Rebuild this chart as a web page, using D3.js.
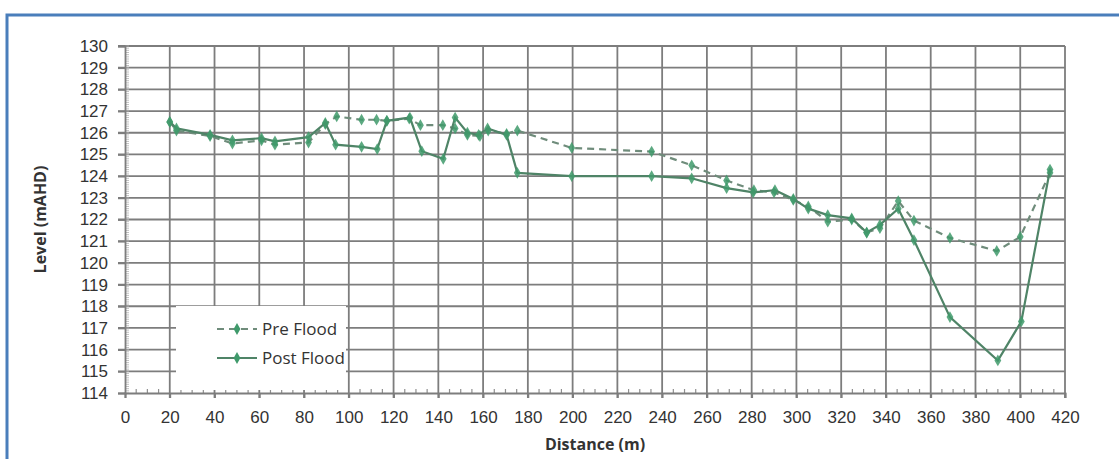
<!DOCTYPE html>
<html>
<head>
<meta charset="utf-8">
<script src="https://cdn.jsdelivr.net/npm/d3@7"></script>
<style>
  html, body { margin: 0; padding: 0; background: #fff; }
  svg { display: block; }
  text { font-family: "Open Sans", "Liberation Sans", sans-serif; fill: #333; }
</style>
</head>
<body>
<script>
// ---- data ----
const preDistance = [20, 23, 38, 48, 61, 67, 82, 89.5, 94.6, 105.7, 112.4, 117, 127, 132, 142, 147.5, 153, 158.6, 162.3, 170.5, 175.3, 199.6, 235.3, 253.2, 268.8, 281, 290, 298.6, 305.3, 314, 324.7, 331.4, 337.3, 345.5, 352.5, 368.6, 389.5, 400, 413.3];
const preLevel    = [126.5, 126.1, 125.85, 125.5, 125.65, 125.45, 125.55, 126.4, 126.75, 126.6, 126.6, 126.55, 126.65, 126.35, 126.35, 126.2, 125.9, 125.85, 126.1, 125.95, 126.1, 125.3, 125.13, 124.5, 123.8, 123.35, 123.25, 122.9, 122.6, 121.9, 122.0, 121.4, 121.6, 122.85, 121.95, 121.15, 120.55, 121.2, 124.15];

const postDistance = [20, 23, 38, 48, 61, 67, 82, 89.5, 94.1, 105.7, 112.7, 117, 127.3, 132.6, 142.2, 147.5, 153, 158, 162, 170.5, 175.3, 199.6, 235.3, 253.2, 268.8, 280.7, 290.4, 298.6, 305.3, 314, 324.7, 331.4, 337.3, 345.5, 352.5, 368.6, 390, 400.5, 413.3];
const postLevel    = [126.5, 126.2, 125.9, 125.65, 125.75, 125.6, 125.8, 126.45, 125.45, 125.35, 125.25, 126.55, 126.7, 125.15, 124.8, 126.7, 126.0, 125.9, 126.2, 125.9, 124.15, 124.0, 124.0, 123.9, 123.45, 123.25, 123.35, 122.95, 122.5, 122.2, 122.05, 121.4, 121.75, 122.5, 121.05, 117.5, 115.5, 117.3, 124.3];

const xTicks = d3.range(0, 421, 20);
const yTicks = d3.range(114, 131, 1);
const seriesNames = ["Pre Flood", "Post Flood"];

// ---- layout ----
const W = 1119, H = 459;
const plot = { left: 125, right: 1065, top: 46, bottom: 393 };

const svg = d3.select("body").append("svg").attr("width", W).attr("height", H);

// outer frame
svg.append("rect").attr("x", 7).attr("y", 15).attr("width", 1300).attr("height", 700)
  .attr("fill", "#fff").attr("stroke", "#4a7ebb").attr("stroke-width", 3);

const x = d3.scaleLinear().domain([0, 420]).range([plot.left, plot.right]);
const y = d3.scaleLinear().domain([114, 130]).range([plot.bottom, plot.top]);

const gridColor = "#7d7d7d";
const gridWidth = 1.8;

// gridlines
const grid = svg.append("g");
grid.selectAll("line.h").data(yTicks.filter(v => v > 114)).join("line")
  .attr("x1", plot.left - 7).attr("x2", plot.right)
  .attr("y1", d => y(d)).attr("y2", d => y(d))
  .attr("stroke", gridColor).attr("stroke-width", gridWidth);
grid.selectAll("line.v").data(xTicks.filter(v => v > 0)).join("line")
  .attr("x1", d => x(d)).attr("x2", d => x(d))
  .attr("y1", plot.top).attr("y2", plot.bottom + 5)
  .attr("stroke", gridColor).attr("stroke-width", gridWidth);

// minor ticks
const minorY = d3.range(114, 130.001, 0.1);
svg.append("g").selectAll("line").data(minorY).join("line")
  .attr("x1", plot.left).attr("x2", plot.left + 4)
  .attr("y1", d => y(d)).attr("y2", d => y(d))
  .attr("stroke", "#b0b0b0").attr("stroke-width", 0.8);
const minorX = d3.range(0, 420.001, 5).filter(v => v % 20 !== 0);
svg.append("g").selectAll("line").data(minorX).join("line")
  .attr("x1", d => x(d)).attr("x2", d => x(d))
  .attr("y1", plot.bottom).attr("y2", plot.bottom - 4)
  .attr("stroke", "#8f8f8f").attr("stroke-width", 1.2);

// axes
const yAxis = d3.axisLeft(y).tickValues(yTicks).tickSize(7).tickPadding(10).tickFormat(d3.format("d"));
const gy = svg.append("g").attr("transform", `translate(${plot.left},0)`).call(yAxis);
const xAxis = d3.axisBottom(x).tickValues(xTicks).tickSize(5).tickPadding(13).tickFormat(d3.format("d"));
const gx = svg.append("g").attr("transform", `translate(0,${plot.bottom})`).call(xAxis);
[gx, gy].forEach(g => {
  g.attr("font-size", null).attr("font-family", null);
  g.select(".domain").attr("stroke", gridColor).attr("stroke-width", gridWidth);
  g.selectAll(".tick line").attr("stroke", gridColor).attr("stroke-width", gridWidth);
  g.selectAll(".tick text").attr("fill", "#333").attr("font-size", "17px")
   .style("font-family", "'Liberation Sans', Arial, sans-serif");
});

// legend background (covers gridlines)
svg.append("rect").attr("x", 176).attr("y", 306).attr("width", 170).attr("height", 84).attr("fill", "#fff");

// series
const lineColorPost = "#4f8467";
const lineColorPre = "#6f8c7b";
const markerColor = "#3f9a6b";
const diamond = d3.symbol().type(d3.symbolDiamond).size(40);

function drawSeries(xs, ys, color, dash) {
  const pts = xs.map((d, i) => [d, ys[i]]);
  const line = d3.line().x(d => x(d[0])).y(d => y(d[1]));
  svg.append("path").datum(pts).attr("d", line).attr("fill", "none")
    .attr("stroke", color).attr("stroke-width", 2.2)
    .attr("stroke-dasharray", dash ? "7,5" : null);
  svg.append("g").selectAll("path").data(pts).join("path")
    .attr("d", diamond)
    .attr("transform", d => `translate(${x(d[0])},${y(d[1])})`)
    .attr("fill", markerColor).attr("opacity", 0.85);
}
drawSeries(preDistance, preLevel, lineColorPre, true);
drawSeries(postDistance, postLevel, lineColorPost, false);

// legend
const legend = svg.append("g");
const legendItems = [
  { name: seriesNames[0], color: lineColorPre, dash: true, y: 329 },
  { name: seriesNames[1], color: lineColorPost, dash: false, y: 358 }
];
legendItems.forEach(it => {
  legend.append("line").attr("x1", 217).attr("x2", 257).attr("y1", it.y).attr("y2", it.y)
    .attr("stroke", it.color).attr("stroke-width", 2).attr("stroke-dasharray", it.dash ? "7,5" : null);
  legend.append("path").attr("d", diamond).attr("transform", `translate(237,${it.y})`).attr("fill", markerColor);
  legend.append("text").attr("x", 262).attr("y", it.y).attr("dy", "0.35em")
    .style("font-size", "17px").text(it.name);
});

// axis titles
svg.append("text").attr("transform", `translate(46,${(plot.top + plot.bottom) / 2}) rotate(-90)`)
  .attr("text-anchor", "middle").style("font-weight", "bold").style("font-size", "16px")
  .text("Level (mAHD)");
svg.append("text").attr("x", (plot.left + plot.right) / 2).attr("y", 450)
  .attr("text-anchor", "middle").style("font-weight", "bold").style("font-size", "16px")
  .text("Distance (m)");
</script>
</body>
</html>
